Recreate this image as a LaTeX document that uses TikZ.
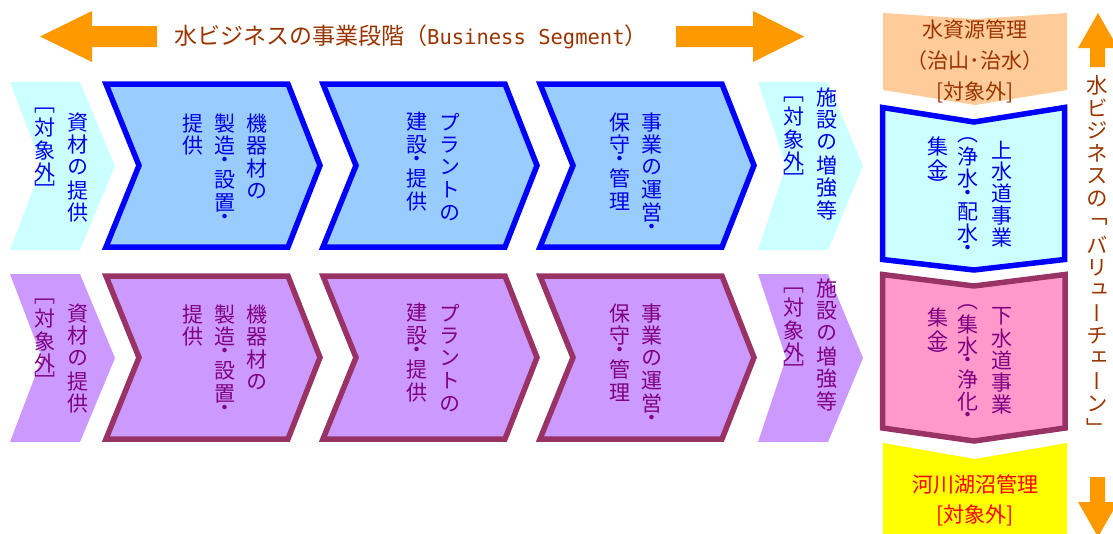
\documentclass[tikz,border=0pt]{standalone}
\usepackage{fontspec}
\XeTeXuseglyphmetrics=1
\newfontfamily\jp{Noto Sans CJK JP}
\newfontfamily\jpv[RawFeature=+vert]{Noto Sans CJK JP}
\newfontfamily\monoL{DejaVu Sans Mono}
\definecolor{orangeA}{HTML}{FF9900}
\definecolor{brownT}{HTML}{993300}
\definecolor{peach}{HTML}{FFCC99}
\definecolor{fillblue}{HTML}{99CCFF}
\definecolor{lineblue}{HTML}{0000FF}
\definecolor{txtblue}{HTML}{0000E6}
\definecolor{lightcyan}{HTML}{CCFFFF}
\definecolor{fillpurple}{HTML}{CC99FF}
\definecolor{lineplum}{HTML}{993366}
\definecolor{txtpurple}{HTML}{800080}
\definecolor{pinkF}{HTML}{FF99CC}
\definecolor{yellowF}{HTML}{FFFF00}
\definecolor{redT}{HTML}{FF0000}
\ExplSyntaxOn
\dim_new:N \l_vt_pitch_dim
\cs_new_protected:Npn \vt_cell:nn #1#2
  {
    \hbox_to_wd:nn {24pt}
      { \hss \vbox_to_ht:nn { #2\l_vt_pitch_dim } { \vss \hbox:n {#1} \vss } \hss }
  }
\NewDocumentCommand \vt { O{22.7pt} m }
  {
    \dim_set:Nn \l_vt_pitch_dim {#1}
    \vbox:n
      {
        \offinterlineskip
        \tl_map_inline:nn {#2}
          {
            \tl_if_in:nnTF {・（）［］} {##1}
              { \vt_cell:nn {##1} {0.5} }
              { \vt_cell:nn {##1} {1} }
          }
      }
  }
\ExplSyntaxOff
\tikzset{
  vcol/.style={inner sep=0pt, anchor=north, font=\jpv\fontsize{21}{22}\selectfont},
  hlab/.style={inner sep=0pt, font=\jp\fontsize{21}{23}\selectfont},
  bigarrow/.style={fill=orangeA},
  thickline/.style={line width=5.5pt, line join=miter}
}
\begin{document}
\begin{tikzpicture}[x=1pt,y=-1pt]
\useasboundingbox (0,0) rectangle (1113,533);
% top arrows and title
\fill[bigarrow] (157,26) -- (92,26) -- (92,11) -- (40,36.5) -- (92,62) -- (92,47) -- (157,47) -- cycle;
\fill[bigarrow] (676,26) -- (753,26) -- (753,11) -- (804,36.5) -- (753,62) -- (753,47) -- (676,47) -- cycle;
\node[inner sep=0pt, anchor=west, font=\jp\fontsize{23}{24}\selectfont, text=brownT] (title) at (174,37) {水ビジネスの事業段階（{\monoL\fontsize{20.5}{24}\selectfont Business Segment}）};
% vertical arrows
\fill[bigarrow] (1090,67) -- (1090,48) -- (1078,48) -- (1098,13) -- (1118,48) -- (1105,48) -- (1105,67) -- cycle;
\fill[bigarrow] (1090,477) -- (1105,477) -- (1105,502) -- (1118,502) -- (1098,537) -- (1078,502) -- (1090,502) -- cycle;
\node[vcol, font=\jpv\fontsize{21.5}{22}\selectfont, text=brownT] (vc) at (1097,73.5) {\vt[22.8pt]{水ビジネスの「バリューチェーン」}};
% rows of chevrons
\foreach \r/\dy/\ds/\tc/\fc/\lc/\oc in {1/0/0/txtblue/fillblue/lightcyan/lineblue, 2/191/192/txtpurple/fillpurple/fillpurple/lineplum} {
  \fill[\lc] (10,82+\ds) -- (80,82+\ds) -- (115,166+\ds) -- (80,250+\ds) -- (10,250+\ds) -- (42,166+\ds) -- cycle;
  \fill[\lc] (758,82+\ds) -- (828,82+\ds) -- (863,166+\ds) -- (828,250+\ds) -- (758,250+\ds) -- (786,166+\ds) -- cycle;
  \foreach \L in {106,323,540} {
    \filldraw[thickline, fill=\fc, draw=\oc] (\L,84+\ds) -- (\L+182,84+\ds) -- (\L+214,165.5+\ds) -- (\L+182,247+\ds) -- (\L,247+\ds) -- (\L+33,165.5+\ds) -- cycle;
  }
  \node[vcol, text=\tc] (sa-\r) at (78,110.5+\dy) {\vt{資材の提供}};
  \node[vcol, text=\tc] (sb-\r) at (45,104.5+\dy) {\vt{［対象外］}};
  \node[vcol, text=\tc] (ka-\r) at (257,111.5+\dy) {\vt{機器材の}};
  \node[vcol, text=\tc] (kb-\r) at (225,111.5+\dy) {\vt{製造・設置・}};
  \node[vcol, text=\tc] (kc-\r) at (193,111.5+\dy) {\vt{提供}};
  \node[vcol, text=\tc] (pa-\r) at (450,110.5+\dy) {\vt{プラントの}};
  \node[vcol, text=\tc] (pb-\r) at (417,110.5+\dy) {\vt{建設・提供}};
  \node[vcol, text=\tc] (ja-\r) at (652,110.5+\dy) {\vt{事業の運営・}};
  \node[vcol, text=\tc] (jb-\r) at (620,110.5+\dy) {\vt{保守・管理}};
  \node[vcol, text=\tc] (fa-\r) at (827,85.5+\dy) {\vt{施設の増強等}};
  \node[vcol, text=\tc] (fb-\r) at (794,93.5+\dy) {\vt{［対象外］}};
}
% right column
\fill[peach] (883,13) -- (975,19) -- (1067,13) -- (1067,90) -- (975,105) -- (883,90) -- cycle;
\node[hlab, text=brownT] (wr1) at (975,29) {水資源管理};
\node[hlab, text=brownT] (wr2) at (975,61) {（治山･治水）};
\node[hlab, text=brownT] (wr3) at (975,92) {[対象外]};
\filldraw[thickline, fill=lightcyan, draw=lineblue] (882.5,107.5) -- (974,122) -- (1064.5,107.5) -- (1064.5,259.5) -- (974,270) -- (882.5,259.5) -- cycle;
\node[vcol, text=txtblue] (ua) at (1002,138.5) {\vt[22pt]{上水道事業}};
\node[vcol, text=txtblue] (ub) at (968,134.5) {\vt[22pt]{（浄水・配水・}};
\node[vcol, text=txtblue] (uc) at (938,135.5) {\vt[22pt]{集金）}};
\filldraw[thickline, fill=pinkF, draw=lineplum] (882.5,274.5) -- (974,286) -- (1065,274.5) -- (1065,428) -- (974,441) -- (882.5,428) -- cycle;
\node[vcol, text=txtpurple] (da) at (1002,305.5) {\vt[22pt]{下水道事業}};
\node[vcol, text=txtpurple] (db) at (968,302) {\vt[22pt]{（集水・浄化・}};
\node[vcol, text=txtpurple] (dc) at (938,306.5) {\vt[22pt]{集金）}};
\fill[yellowF] (883,443) -- (975,459) -- (1067,443) -- (1067,540) -- (883,540) -- cycle;
\node[hlab, text=redT] (kr1) at (975,485) {河川湖沼管理};
\node[hlab, text=redT] (kr2) at (975,515) {[対象外]};
\end{tikzpicture}
\end{document}
